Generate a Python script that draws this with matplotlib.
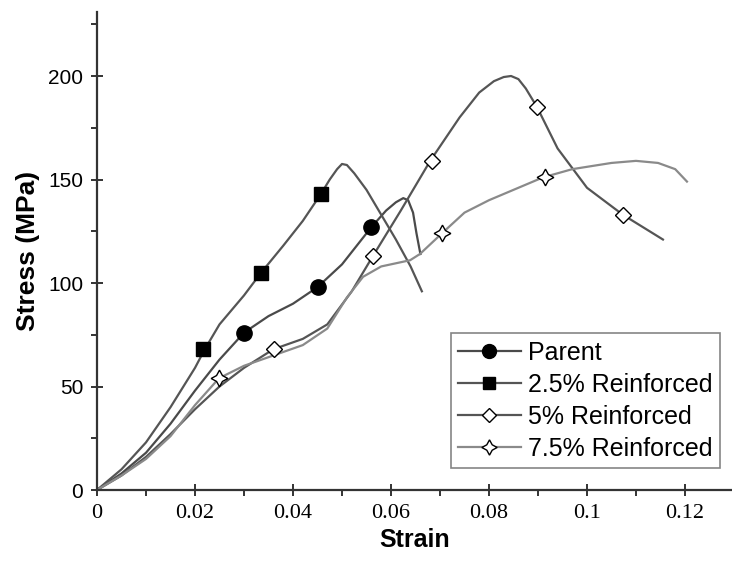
import matplotlib
matplotlib.use("Agg")
import matplotlib.pyplot as plt
from matplotlib.ticker import MultipleLocator, FixedLocator

# ---- data ----
parent_x = [0, 0.005, 0.010, 0.015, 0.020, 0.025, 0.030, 0.035, 0.040, 0.045, 0.050, 0.053, 0.056, 0.059, 0.061, 0.0625, 0.0635, 0.0645, 0.0652, 0.066]
parent_y = [0, 8, 18, 32, 48, 63, 76, 84, 90, 98, 109, 118, 127, 135, 139, 141, 140, 134, 124, 114]
parent_mx = [0.030, 0.0451, 0.0559]
parent_my = [76, 98, 127]

r25_x = [0, 0.005, 0.010, 0.015, 0.020, 0.022, 0.025, 0.030, 0.0335, 0.038, 0.042, 0.0457, 0.0475, 0.049, 0.050, 0.051, 0.0525, 0.055, 0.058, 0.061, 0.064, 0.0663]
r25_y = [0, 10, 23, 40, 59, 68, 80, 94, 105, 118, 130, 143, 150, 155, 157.5, 157, 153, 145, 133, 121, 108, 96]
r25_mx = [0.0216, 0.0335, 0.0457]
r25_my = [68, 105, 143]

r5_x = [0, 0.005, 0.010, 0.015, 0.020, 0.025, 0.030, 0.036, 0.042, 0.047, 0.052, 0.0563, 0.062, 0.068, 0.074, 0.078, 0.081, 0.083, 0.0845, 0.086, 0.0875, 0.0898, 0.094, 0.100, 0.1073, 0.1155]
r5_y = [0, 7, 16, 27, 39, 50, 59, 68, 73, 80, 96, 113, 135, 159, 180, 192, 197.5, 199.5, 200, 198.5, 194, 185, 165, 146, 133, 121]
r5_mx = [0.0361, 0.0563, 0.0683, 0.0898, 0.1073]
r5_my = [68, 113, 159, 185, 133]

r75_x = [0, 0.005, 0.010, 0.015, 0.020, 0.0249, 0.030, 0.036, 0.042, 0.047, 0.051, 0.0543, 0.058, 0.0639, 0.0659, 0.0704, 0.075, 0.080, 0.085, 0.091, 0.097, 0.105, 0.110, 0.1145, 0.118, 0.1204]
r75_y = [0, 7, 15, 26, 41, 54, 60, 65, 70, 78, 93, 103, 108, 111, 114, 124, 134, 140, 145, 151, 155, 158, 159, 158, 155, 149]
r75_mx = [0.0249, 0.0704, 0.0914]
r75_my = [54, 124, 151]

labels = ["Parent", "2.5% Reinforced", "5% Reinforced", "7.5% Reinforced"]
x_ticks = [0, 0.02, 0.04, 0.06, 0.08, 0.10, 0.12]
x_ticklabels = ["0", "0.02", "0.04", "0.06", "0.08", "0.1", "0.12"]
y_ticks = [0, 50, 100, 150, 200]

# ---- figure ----
fig = plt.figure(figsize=(7.32, 5.72), dpi=100)
ax = fig.add_axes([97/732, 82/572, (732-97)/732, (490-12)/572])

lw = 1.6
c_par = "#4a4a4a"
c_25 = "#555555"
c_5 = "#555555"
c_75 = "#8a8a8a"

ax.plot(parent_x, parent_y, color=c_par, lw=lw, zorder=2)
ax.plot(r25_x, r25_y, color=c_25, lw=lw, zorder=2)
ax.plot(r5_x, r5_y, color=c_5, lw=lw, zorder=2)
ax.plot(r75_x, r75_y, color=c_75, lw=lw, zorder=2)

ax.plot(parent_mx, parent_my, ls="none", marker="o", ms=11, mfc="black", mec="black", zorder=3)
ax.plot(r25_mx, r25_my, ls="none", marker="s", ms=10, mfc="black", mec="black", zorder=3)
ax.plot(r5_mx, r5_my, ls="none", marker="D", ms=8, mfc="white", mec="black", mew=1.0, zorder=3)
ax.plot(r75_mx, r75_my, ls="none", marker=(4, 1, 0), ms=12, mfc="white", mec="black", mew=1.0, zorder=3)

# legend handles
h1, = ax.plot([], [], color=c_par, lw=lw, marker="o", ms=10, mfc="black", mec="black")
h2, = ax.plot([], [], color=c_25, lw=lw, marker="s", ms=8.5, mfc="black", mec="black")
h3, = ax.plot([], [], color=c_5, lw=lw, marker="D", ms=7.5, mfc="white", mec="black", mew=1.0)
h4, = ax.plot([], [], color=c_75, lw=lw, marker=(4, 1, 0), ms=11, mfc="white", mec="black", mew=1.0)

leg = ax.legend([h1, h2, h3, h4], labels, loc="lower right",
                bbox_to_anchor=((720-97)/635, (490-468)/478),
                prop={"family": "Liberation Sans", "size": 18},
                frameon=True, fancybox=False, borderpad=0.3,
                labelspacing=0.32, handlelength=2.5, handletextpad=0.3,
                borderaxespad=0.0)
leg.get_frame().set_edgecolor("#666666")
leg.get_frame().set_linewidth(1.2)

ax.set_xlim(0, (732-97)/4900)
ax.set_ylim(0, (490-12)/2.07)

for s in ["top", "right"]:
    ax.spines[s].set_visible(False)
for s in ["left", "bottom"]:
    ax.spines[s].set_linewidth(1.6)
    ax.spines[s].set_color("#333333")

ax.xaxis.set_major_locator(FixedLocator(x_ticks))
ax.set_xticklabels(x_ticklabels, family="Liberation Serif", fontsize=16)
ax.xaxis.set_minor_locator(MultipleLocator(0.01))
ax.yaxis.set_major_locator(FixedLocator(y_ticks))
ax.set_yticklabels([str(v) for v in y_ticks], family="Liberation Sans", fontsize=15)
ax.yaxis.set_minor_locator(MultipleLocator(25))
ax.tick_params(which="major", direction="inout", length=8, width=1.4, color="#333333", pad=6)
ax.tick_params(which="minor", direction="out", length=4, width=1.4, color="#333333")

ax.set_xlabel("Strain", family="Liberation Sans", fontweight="bold", fontsize=18, labelpad=4)
ax.set_ylabel("Stress (MPa)", family="Liberation Sans", fontweight="bold", fontsize=19, labelpad=6)

fig.savefig("out.png", dpi=100)
